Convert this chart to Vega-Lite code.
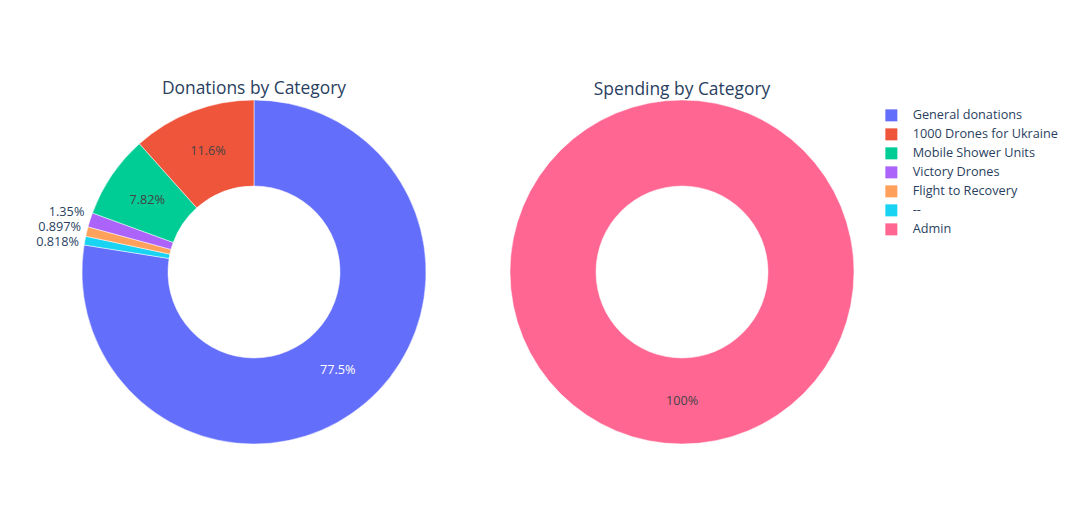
{
  "$schema": "https://vega.github.io/schema/vega-lite/v6.json",
  "padding": {"left": 36, "top": 80, "right": 0, "bottom": 0},
  "background": "white",
  "datasets": {
    "donations": [
      {"category": "General donations", "share": 0.775, "ord": 1},
      {"category": "--", "share": 0.00818, "ord": 2},
      {"category": "Flight to Recovery", "share": 0.00897, "ord": 3},
      {"category": "Victory Drones", "share": 0.0135, "ord": 4},
      {"category": "Mobile Shower Units", "share": 0.0782, "ord": 5},
      {"category": "1000 Drones for Ukraine", "share": 0.116, "ord": 6}
    ],
    "spending": [
      {"category": "Admin", "share": 1.0, "ord": 1}
    ]
  },
  "config": {
    "view": {"stroke": null},
    "font": "Open Sans",
    "title": {"fontSize": 17.4, "fontWeight": "normal", "color": "#2a3f5f", "anchor": "middle", "frame": "group"},
    "legend": {
      "title": null,
      "symbolType": "square",
      "symbolSize": 144,
      "symbolStrokeWidth": 0,
      "labelFontSize": 12.7,
      "labelColor": "#2a3f5f",
      "rowPadding": 5,
      "labelOffset": 15,
      "padding": 9,
      "offset": 21
    }
  },
  "spacing": 82,
  "resolve": {"scale": {"color": "shared"}},
  "hconcat": [
    {
      "width": 344,
      "height": 344,
      "title": {"text": "Donations by Category", "offset": -4},
      "data": {"name": "donations"},
      "encoding": {
        "theta": {"field": "share", "type": "quantitative", "stack": true},
        "order": {"field": "ord", "type": "quantitative"}
      },
      "layer": [
        {
          "mark": {"type": "arc", "innerRadius": 86, "outerRadius": 172, "stroke": "white", "strokeWidth": 0.5},
          "encoding": {
            "color": {
              "field": "category",
              "type": "nominal",
              "scale": {
                "domain": ["General donations", "1000 Drones for Ukraine", "Mobile Shower Units", "Victory Drones", "Flight to Recovery", "--", "Admin"],
                "range": ["#636efa", "#EF553B", "#00cc96", "#ab63fa", "#FFA15A", "#19d3f3", "#FF6692"]
              }
            }
          }
        },
        {
          "mark": {"type": "text", "radius": 129, "fontSize": 12.7, "align": "center", "baseline": "middle"},
          "encoding": {
            "text": {"field": "share", "type": "quantitative", "format": ".3p", "condition": {"test": "datum.share < 0.05", "value": ""}},
            "color": {"condition": {"test": "datum.category === 'General donations'", "value": "white"}, "value": "#444444"}
          }
        },
        {
          "mark": {"type": "text", "radius": 178, "fontSize": 12.7, "align": "right", "baseline": "middle", "dy": -6, "color": "#2a3f5f"},
          "encoding": {"text": {"field": "share", "type": "quantitative", "format": ".3p", "condition": {"test": "datum.category !== 'Victory Drones'", "value": ""}}}
        },
        {
          "mark": {"type": "text", "radius": 178, "fontSize": 12.7, "align": "right", "baseline": "middle", "dy": -3, "color": "#2a3f5f"},
          "encoding": {"text": {"field": "share", "type": "quantitative", "format": ".3p", "condition": {"test": "datum.category !== 'Flight to Recovery'", "value": ""}}}
        },
        {
          "mark": {"type": "text", "radius": 178, "fontSize": 12.7, "align": "right", "baseline": "middle", "dy": 2, "color": "#2a3f5f"},
          "encoding": {"text": {"field": "share", "type": "quantitative", "format": ".3p", "condition": {"test": "datum.category !== '--'", "value": ""}}}
        }
      ]
    },
    {
      "width": 344,
      "height": 344,
      "title": {"text": "Spending by Category", "offset": 1},
      "data": {"name": "spending"},
      "encoding": {
        "theta": {"field": "share", "type": "quantitative", "stack": true},
        "order": {"field": "ord", "type": "quantitative"}
      },
      "layer": [
        {
          "mark": {"type": "arc", "innerRadius": 86, "outerRadius": 172, "stroke": "white", "strokeWidth": 0.5},
          "encoding": {
            "color": {
              "field": "category",
              "type": "nominal",
              "scale": {
                "domain": ["General donations", "1000 Drones for Ukraine", "Mobile Shower Units", "Victory Drones", "Flight to Recovery", "--", "Admin"],
                "range": ["#636efa", "#EF553B", "#00cc96", "#ab63fa", "#FFA15A", "#19d3f3", "#FF6692"]
              }
            }
          }
        },
        {
          "mark": {"type": "text", "radius": 129, "fontSize": 12.7, "align": "center", "baseline": "middle", "color": "#444444"},
          "encoding": {
            "text": {"field": "share", "type": "quantitative", "format": ".3p"}
          }
        }
      ]
    }
  ]
}
